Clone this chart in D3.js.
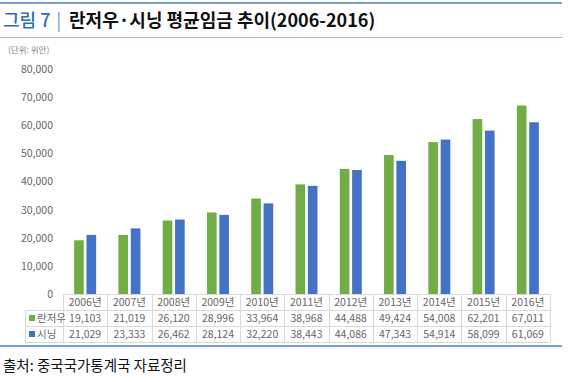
<!DOCTYPE html>
<html><head><meta charset="utf-8">
<script src="https://cdn.jsdelivr.net/npm/d3@7"></script>
<style>body{margin:0;background:#fff}svg{display:block}</style>
</head><body><svg id="c" width="568" height="382"></svg>
<script>
const years = ["2006년","2007년","2008년","2009년","2010년","2011년","2012년","2013년","2014년","2015년","2016년"];
const seriesNames = ["란저우","시닝"];
const lanzhou = [19103,21019,26120,28996,33964,38968,44488,49424,54008,62201,67011];
const xining  = [21029,23333,26462,28124,32220,38443,44086,47343,54914,58099,61069];
const yTicks = [0,10000,20000,30000,40000,50000,60000,70000,80000];
const colors = ["#70ad47","#4472c4"];

(function(){
const svg = d3.select("#c");
const font = "'Noto Sans CJK KR', 'Noto Sans', sans-serif";
const tLeft = 63, tRight = 550, base = 294;
const x = d3.scaleBand().domain(years).range([tLeft, tRight]);
const y = d3.scaleLinear().domain([0,80000]).range([base, 69]);
const inner = d3.scaleBand().domain(seriesNames).range([0, 22]).paddingInner(0.22);

svg.append("line").attr("x1",0).attr("x2",562).attr("y1",3).attr("y2",3).attr("stroke","#4a7ebb").attr("stroke-width",1.5);
svg.append("line").attr("x1",0).attr("x2",562).attr("y1",37.5).attr("y2",37.5).attr("stroke","#9db3d6").attr("stroke-width",1);
svg.append("line").attr("x1",0).attr("x2",562).attr("y1",346).attr("y2",346).attr("stroke","#4a7ebb").attr("stroke-width",1.5);

const t = svg.append("text").attr("x",3).attr("y",27).attr("font-family",font).attr("font-size",18).attr("font-weight",500);
t.append("tspan").attr("fill","#2f6db5").text("그림 7");
t.append("tspan").attr("fill","#2f6db5").attr("dx",6).attr("font-weight",300).text("|");
t.append("tspan").attr("fill","#111").attr("dx",8).attr("font-weight",700).text("란저우·시닝 평균임금 추이(2006-2016)");

svg.append("text").attr("x",8).attr("y",53).attr("font-family",font).attr("font-size",8.5).attr("fill","#7f7f7f").text("(단위: 위안)");

const ya = svg.append("g").attr("transform","translate(53,0)").call(d3.axisLeft(y).tickValues(yTicks).tickFormat(d3.format(",")).tickSize(0).tickPadding(0));
ya.select(".domain").remove();
ya.selectAll("text").attr("font-family",font).attr("font-size",10.5).attr("fill","#666");

const groups = svg.append("g").selectAll("g").data(years).join("g")
  .attr("transform", d => `translate(${x(d) + x.bandwidth()/2 - 11},0)`);
[lanzhou, xining].forEach((vals, si) => {
  groups.append("rect")
    .attr("x", inner(seriesNames[si]))
    .attr("width", inner.bandwidth())
    .attr("y", (d,i) => y(vals[i]))
    .attr("height", (d,i) => base - y(vals[i]))
    .attr("fill", colors[si]);
});

const rowH = 16, tTop = base;
const grid = svg.append("g").attr("stroke","#d9d9d9").attr("stroke-width",1);
grid.append("line").attr("x1",tLeft).attr("x2",tRight).attr("y1",tTop+0.5).attr("y2",tTop+0.5);
[1,2,3].forEach(r => grid.append("line").attr("x1",25).attr("x2",tRight).attr("y1",tTop+r*rowH+0.5).attr("y2",tTop+r*rowH+0.5));
grid.append("line").attr("x1",25.5).attr("x2",25.5).attr("y1",tTop+rowH).attr("y2",tTop+3*rowH);
years.forEach(yr => grid.append("line").attr("x1",Math.round(x(yr))+0.5).attr("x2",Math.round(x(yr))+0.5).attr("y1",tTop).attr("y2",tTop+3*rowH));
grid.append("line").attr("x1",tRight+0.5).attr("x2",tRight+0.5).attr("y1",tTop).attr("y2",tTop+3*rowH);

const txt = svg.append("g").attr("font-family",font).attr("font-size",10.5).attr("fill","#666").attr("text-anchor","middle");
years.forEach((yr,i) => {
  const cx = x(yr) + x.bandwidth()/2;
  txt.append("text").attr("x",cx).attr("y",tTop+rowH/2+4).text(yr);
  txt.append("text").attr("x",cx).attr("y",tTop+1.5*rowH+4).text(d3.format(",")(lanzhou[i]));
  txt.append("text").attr("x",cx).attr("y",tTop+2.5*rowH+4).text(d3.format(",")(xining[i]));
});
seriesNames.forEach((s,si) => {
  const cy = tTop + (si+1.5)*rowH;
  svg.append("rect").attr("x",29).attr("y",cy-3).attr("width",6).attr("height",6).attr("fill",colors[si]);
  svg.append("text").attr("x",37).attr("y",cy+4).attr("font-family",font).attr("font-size",10.5).attr("fill","#666").text(s);
});

svg.append("text").attr("x",3).attr("y",371).attr("font-family",font).attr("font-size",14.5).attr("fill","#111").text("출처: 중국국가통계국 자료정리");
})();
</script></body></html>
